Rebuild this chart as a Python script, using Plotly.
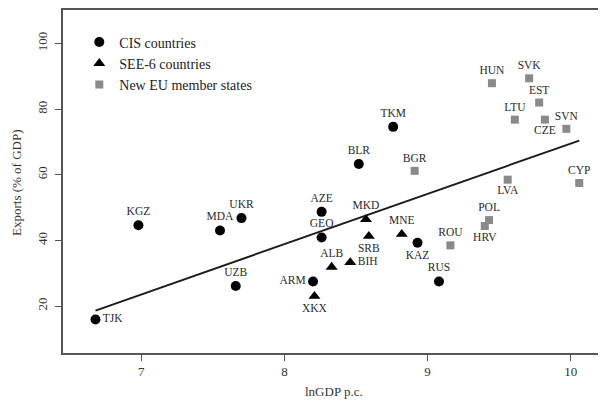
import numpy as np
import plotly.graph_objects as go

# ---- data ----
cis_codes = ["TJK", "KGZ", "MDA", "UKR", "UZB", "ARM", "AZE", "GEO", "BLR", "TKM", "KAZ", "RUS"]
cis_lngdp = [6.68, 6.98, 7.55, 7.70, 7.66, 8.20, 8.26, 8.26, 8.52, 8.76, 8.93, 9.08]
cis_exports = [15.9, 44.6, 43.0, 46.8, 26.1, 27.5, 48.7, 40.9, 63.3, 74.6, 39.3, 27.5]

see_codes = ["XKX", "ALB", "BIH", "MKD", "SRB", "MNE"]
see_lngdp = [8.21, 8.33, 8.46, 8.57, 8.59, 8.82]
see_exports = [23.0, 31.9, 33.3, 46.4, 41.3, 41.9]

eu_codes = ["BGR", "ROU", "HRV", "POL", "LVA", "CYP", "HUN", "SVK", "EST", "LTU", "CZE", "SVN"]
eu_lngdp = [8.91, 9.16, 9.40, 9.43, 9.56, 10.06, 9.45, 9.71, 9.78, 9.61, 9.82, 9.97]
eu_exports = [61.2, 38.5, 44.4, 46.2, 58.5, 57.5, 87.9, 89.4, 82.0, 76.8, 76.8, 74.0]

x_ticks = [7, 8, 9, 10]
y_ticks = [20, 40, 60, 80, 100]

# ---- label placement (style) ----
cis_pos = ["middle right", "top center", "top center", "top center", "top center", "middle left",
           "top center", "top center", "top center", "top center", "bottom center", "top center"]
see_pos = ["bottom center", "top center", "middle right", "top center", "bottom center", "top center"]
eu_pos = ["top center", "top center", "bottom center", "top center", "bottom center", "top center",
          "top center", "top center", "top center", "top center", "bottom center", "top center"]

SERIF = "Liberation Serif"
label_font = dict(family=SERIF, size=11.5, color="#2a2a2a")
axis_font = dict(family=SERIF, size=13, color="#333333")

fig = go.Figure()

# fitted line across all countries
all_x = np.array(cis_lngdp + see_lngdp + eu_lngdp)
all_y = np.array(cis_exports + see_exports + eu_exports)
slope, intercept = np.polyfit(all_x, all_y, 1)
fx = np.array([all_x.min(), all_x.max()])
fig.add_trace(go.Scatter(x=fx, y=intercept + slope * fx, mode="lines",
                         line=dict(color="#1a1a1a", width=1.9), showlegend=False, hoverinfo="skip"))

fig.add_trace(go.Scatter(x=cis_lngdp, y=cis_exports, text=cis_codes, mode="markers+text",
                         textposition=cis_pos, textfont=label_font, name="CIS countries",
                         marker=dict(symbol="circle", size=10, color="#000000")))
fig.add_trace(go.Scatter(x=see_lngdp, y=see_exports, text=see_codes, mode="markers+text",
                         textposition=see_pos, textfont=label_font, name="SEE-6 countries",
                         marker=dict(symbol="triangle-up", size=10.5, color="#000000")))
fig.add_trace(go.Scatter(x=eu_lngdp, y=eu_exports, text=eu_codes, mode="markers+text",
                         textposition=eu_pos, textfont=label_font, name="New EU member states",
                         marker=dict(symbol="square", size=8, color="#8a8a8a")))

axis_common = dict(showgrid=False, zeroline=False, showline=True, linecolor="#555555", linewidth=1.5,
                   ticks="outside", ticklen=6, tickwidth=1.2, tickcolor="#555555",
                   tickfont=axis_font)

# page body has an 8px default margin, so the figure is sized to fit the window
fig.update_layout(
    width=598, height=395,
    margin=dict(l=55, r=0, t=2, b=50, autoexpand=False),
    paper_bgcolor="white", plot_bgcolor="white",
    font=dict(family=SERIF, color="#333333"),
    xaxis=dict(range=[6.453, 10.247], tickvals=x_ticks, mirror=True, ticklabelstandoff=0,
               **axis_common),
    yaxis=dict(range=[5.7, 110.2], tickvals=y_ticks, tickangle=-90, ticklabelstandoff=3,
               **axis_common),
    legend=dict(x=0.03, y=0.952, xanchor="left", yanchor="top", bgcolor="rgba(0,0,0,0)",
                font=dict(family=SERIF, size=14, color="#222222"), tracegroupgap=0,
                itemwidth=30),
    annotations=[
        dict(text="lnGDP p.c.", xref="paper", yref="paper", x=0.499, y=-0.1137,
             xanchor="center", yanchor="middle", showarrow=False, font=axis_font),
        dict(text="Exports (% of GDP)", xref="paper", yref="paper", x=-0.0866, y=0.4985,
             xanchor="center", yanchor="middle", textangle=-90, showarrow=False, font=axis_font),
    ],
    hovermode=False,
)

fig.write_html("out.html")
